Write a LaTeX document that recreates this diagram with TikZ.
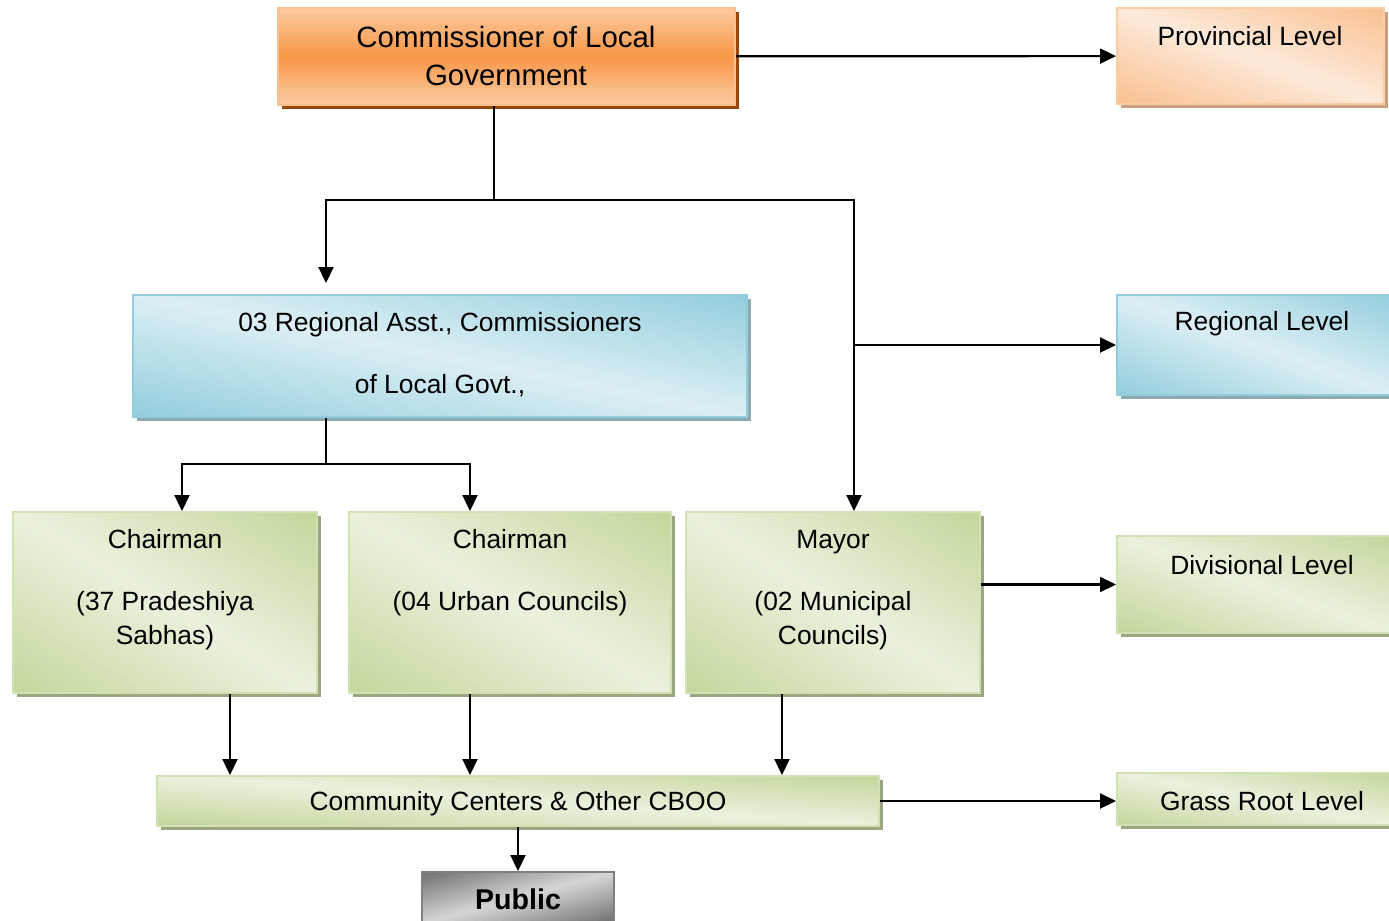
\documentclass[tikz,border=0pt]{standalone}
\usepackage{fontspec}
\setmainfont{Liberation Sans}
\usetikzlibrary{arrows.meta,positioning,fit}

\definecolor{orangeMid}{HTML}{F79646}
\definecolor{orangeLight}{HTML}{FAC090}
\definecolor{orangePale}{HTML}{FBCBA2}
\definecolor{orangeShadow}{HTML}{984807}
\definecolor{peachLight}{HTML}{FDEADB}
\definecolor{peachShadow}{HTML}{C8A080}
\definecolor{blueDark}{HTML}{93CDDD}
\definecolor{blueLight}{HTML}{DCEFF4}
\definecolor{blueShadow}{HTML}{8EA9B0}
\definecolor{greenDark}{HTML}{C3D69B}
\definecolor{greenLight}{HTML}{EBF1DE}
\definecolor{greenShadow}{HTML}{9AA680}
\definecolor{grayDark}{HTML}{6E6E6E}
\definecolor{grayLight}{HTML}{D6D6D6}

% colour bands across a box, in unit coordinates of the box
\newcommand\diagbands[2]{%
  \foreach \i in {0,...,39}{%
    \pgfmathsetmacro\sa{\i/20}%
    \pgfmathsetmacro\sb{\sa+0.07}%
    \pgfmathsetmacro\sp{min(100,100*abs(\sa+0.025-1))}%
    \fill[#1!\sp!#2] (\sa+1,-1) -- (\sb+1,-1) -- (\sb-2,2) -- (\sa-2,2) -- cycle;}}
\newcommand\flipbands[2]{%
  \foreach \i in {0,...,39}{%
    \pgfmathsetmacro\sa{\i/20}%
    \pgfmathsetmacro\sb{\sa+0.07}%
    \pgfmathsetmacro\sp{min(100,100*abs(\sa+0.025-1))}%
    \fill[#1!\sp!#2] (\sa-2,-1) -- (\sb-2,-1) -- (\sb+1,2) -- (\sa+1,2) -- cycle;}}
\newcommand\vertbands[2]{%
  \foreach \i in {0,...,39}{%
    \pgfmathsetmacro\sa{\i/40}%
    \pgfmathsetmacro\sb{\sa+0.04}%
    \pgfmathsetmacro\sp{100*(1-abs(2*(\sa+0.0125)-1))}%
    \fill[#1!\sp!#2] (-1,\sa) rectangle (2,\sb);}}
% shadow and colour of a box: x1,y1,x2,y2 (pixels), bands, dark, light, shadow
\newcommand\lvlshade[8]{%
  \fill[#8] (#1+4,#2+4) rectangle (#3+4,#4+4);
  \begin{scope}
    \clip (#1,#2) rectangle (#3,#4);
    \pgfmathsetmacro\lfw{(#3-#1)*0.5}%
    \pgfmathsetmacro\lfh{(#4-#2)*0.5}%
    \begin{scope}[shift={(#1,#4)},x=\lfw pt,y=\lfh pt]
      #5{#6}{#7}
    \end{scope}
  \end{scope}}

\tikzset{
  lvlbox/.style={inner sep=0pt,line width=1pt},
  lbl/.style={inner sep=0pt,align=center,font=\fontsize{13.2}{17}\selectfont},
  arr/.style={line width=1.1pt,-{Triangle[length=8pt,width=7.5pt]}},
  conn/.style={line width=1.1pt}
}

\begin{document}
\begin{tikzpicture}[x=0.5pt,y=-0.5pt]
\useasboundingbox (0,0) rectangle (1389,921);

% boxes
\lvlshade{278}{8}{735}{105}{\vertbands}{orangeMid}{orangePale}{orangeShadow}
\node[lvlbox,draw=orangeLight,fit={(278,8) (735,105)}] (com) {};
\lvlshade{1117}{8}{1384}{104}{\diagbands}{orangeLight}{peachLight}{peachShadow}
\node[lvlbox,draw=orangeLight!80,fit={(1117,8) (1384,104)}] (prov) {};
\lvlshade{133}{295}{747}{417}{\diagbands}{blueDark}{blueLight}{blueShadow}
\node[lvlbox,draw=blueDark,fit={(133,295) (747,417)}] (reg) {};
\lvlshade{1117}{295}{1395}{395}{\diagbands}{blueDark}{blueLight}{blueShadow}
\node[lvlbox,draw=blueDark,fit={(1117,295) (1395,395)}] (regl) {};
\lvlshade{13}{512}{317}{693}{\diagbands}{greenDark}{greenLight}{greenShadow}
\node[lvlbox,draw=greenDark!75,fit={(13,512) (317,693)}] (ch1) {};
\lvlshade{349}{512}{671}{693}{\diagbands}{greenDark}{greenLight}{greenShadow}
\node[lvlbox,draw=greenDark!75,fit={(349,512) (671,693)}] (ch2) {};
\lvlshade{686}{512}{980}{693}{\diagbands}{greenDark}{greenLight}{greenShadow}
\node[lvlbox,draw=greenDark!75,fit={(686,512) (980,693)}] (may) {};
\lvlshade{1117}{536}{1395}{633}{\diagbands}{greenDark}{greenLight}{greenShadow}
\node[lvlbox,draw=greenDark!75,fit={(1117,536) (1395,633)}] (div) {};
\lvlshade{157}{776}{879}{826}{\diagbands}{greenDark}{greenLight}{greenShadow}
\node[lvlbox,draw=greenDark!75,fit={(157,776) (879,826)}] (comm) {};
\lvlshade{1117}{773}{1395}{825}{\diagbands}{greenDark}{greenLight}{greenShadow}
\node[lvlbox,draw=greenDark!75,fit={(1117,773) (1395,825)}] (grass) {};
\lvlshade{422}{872}{614}{924}{\flipbands}{grayDark}{grayLight}{white}
\node[lvlbox,draw=gray,fit={(422,872) (614,924)}] (pub) {};

% texts
\node[lbl,font=\fontsize{14.7}{19}\selectfont] (comtxt) at (506,56) {Commissioner of Local\\Government};
\node[lbl] (provtxt) at (1250,36) {Provincial Level};
\node[lbl] (regtxt) at (440,355) {03 Regional Asst., Commissioners\\[14pt]of Local Govt.,};
\node[lbl] (regltxt) at (1262,324) {Regional Level};
\node[lbl] (ch1txt) at (165,590) {Chairman\\[14pt](37 Pradeshiya\\Sabhas)};
\node[lbl] (ch2txt) at (510,573) {Chairman\\[14pt](04 Urban Councils)};
\node[lbl] (maytxt) at (833,590) {Mayor\\[14pt](02 Municipal\\Councils)};
\node[lbl] (divtxt) at (1262,565) {Divisional Level};
\node[lbl] (commtxt) at (518,804) {Community Centers \& Other CBOO};
\node[lbl] (grasstxt) at (1262,801) {Grass Root Level};
\node[lbl,font=\fontsize{14.3}{17}\selectfont\bfseries] (pubtxt) at (518,899) {Public};

% junctions
\coordinate (j1) at (494,200);
\coordinate (r1) at (326,200);
\coordinate (m1) at (854,200);
\coordinate (r2) at (326,464);
\coordinate (a1) at (182,464);
\coordinate (a2) at (470,464);
\coordinate (b1) at (230,740);
\coordinate (b2) at (470,740);
\coordinate (b3) at (782,740);

% connectors
\draw[arr] (com) -- (prov);
\draw[conn] (com.south -| j1) -- (j1);
\draw[arr,shorten >=5.5pt] (j1) -- (r1) -- (reg.north -| r1);
\draw[arr] (j1) -- (m1) -- (may.north -| m1);
\draw[arr] (m1 |- regl) -- (regl);
\draw[conn] (reg.south -| r2) -- (r2);
\draw[arr] (r2) -| (ch1.north -| a1);
\draw[arr] (r2) -| (ch2.north -| a2);
\draw[arr] (ch1.south -| b1) -- (comm.north -| b1);
\draw[arr] (ch2.south -| b2) -- (comm.north -| b2);
\draw[arr] (may.south -| b3) -- (comm.north -| b3);
\draw[arr] (may.east |- div) -- (div);
\draw[arr] (comm.east) -- (comm.east -| grass.west);
\draw[arr] (comm) -- (pub);

\end{tikzpicture}
\end{document}
